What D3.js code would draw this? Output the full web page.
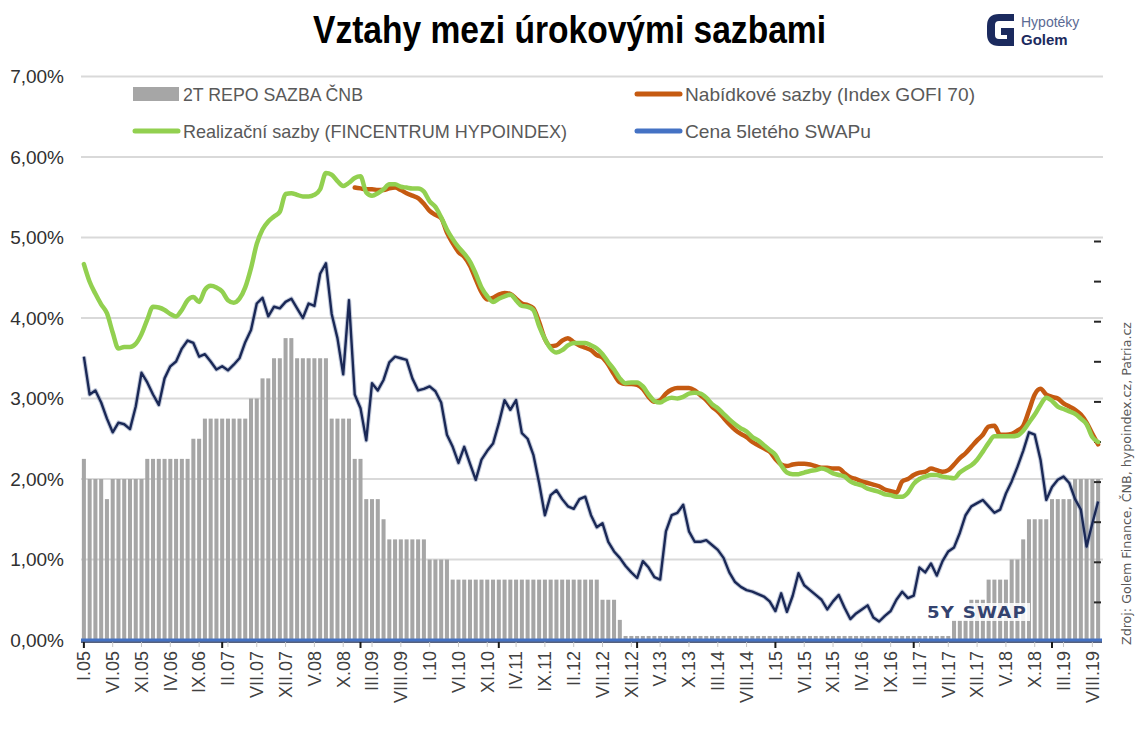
<!DOCTYPE html>
<html lang="cs">
<head>
<meta charset="utf-8">
<title>Vztahy mezi úrokovými sazbami</title>
<script src="https://cdn.jsdelivr.net/npm/d3@7"></script>
<style>
	html, body { margin: 0; padding: 0; background: #fff; }
	svg { display: block; font-family: "Liberation Sans", Arial, sans-serif; }
</style>
</head>
<body>
<svg id="chart"></svg>
<script>
/* global d3 */

// Monthly data, I.05 .. IX.19 (one row = one year)
const tickLabels = [
	'I.05', 'VI.05', 'XI.05', 'IV.06', 'IX.06', 'II.07', 'VII.07', 'XII.07', 'V.08', 'X.08',
	'III.09', 'VIII.09', 'I.10', 'VI.10', 'XI.10', 'IV.11', 'IX.11', 'II.12', 'VII.12', 'XII.12',
	'V.13', 'X.13', 'III.14', 'VIII.14', 'I.15', 'VI.15', 'XI.15', 'IV.16', 'IX.16', 'II.17',
	'VII.17', 'XII.17', 'V.18', 'X.18', 'III.19', 'VIII.19',
];

const yTicks = [ 0, 1, 2, 3, 4, 5, 6, 7 ];
const swapAxisTicks = [ 0.5, 1, 1.5, 2, 2.5, 3, 3.5, 4, 4.5, 5 ];

// 2T REPO SAZBA ČNB
const repoRate = [
	2.25, 2.00, 2.00, 2.00, 1.75, 2.00, 2.00, 2.00, 2.00, 2.00, 2.00, 2.25,
	2.25, 2.25, 2.25, 2.25, 2.25, 2.25, 2.25, 2.50, 2.50, 2.75, 2.75, 2.75,
	2.75, 2.75, 2.75, 2.75, 2.75, 3.00, 3.00, 3.25, 3.25, 3.50, 3.50, 3.75,
	3.75, 3.50, 3.50, 3.50, 3.50, 3.50, 3.50, 2.75, 2.75, 2.75, 2.75, 2.25,
	2.25, 1.75, 1.75, 1.75, 1.50, 1.25, 1.25, 1.25, 1.25, 1.25, 1.25, 1.25,
	1.00, 1.00, 1.00, 1.00, 0.75, 0.75, 0.75, 0.75, 0.75, 0.75, 0.75, 0.75,
	0.75, 0.75, 0.75, 0.75, 0.75, 0.75, 0.75, 0.75, 0.75, 0.75, 0.75, 0.75,
	0.75, 0.75, 0.75, 0.75, 0.75, 0.75, 0.50, 0.50, 0.50, 0.25, 0.05, 0.05,
	0.05, 0.05, 0.05, 0.05, 0.05, 0.05, 0.05, 0.05, 0.05, 0.05, 0.05, 0.05,
	0.05, 0.05, 0.05, 0.05, 0.05, 0.05, 0.05, 0.05, 0.05, 0.05, 0.05, 0.05,
	0.05, 0.05, 0.05, 0.05, 0.05, 0.05, 0.05, 0.05, 0.05, 0.05, 0.05, 0.05,
	0.05, 0.05, 0.05, 0.05, 0.05, 0.05, 0.05, 0.05, 0.05, 0.05, 0.05, 0.05,
	0.05, 0.05, 0.05, 0.05, 0.05, 0.05, 0.05, 0.25, 0.25, 0.25, 0.50, 0.50,
	0.50, 0.75, 0.75, 0.75, 0.75, 1.00, 1.00, 1.25, 1.50, 1.50, 1.50, 1.50,
	1.75, 1.75, 1.75, 1.75, 2.00, 2.00, 2.00, 2.00, 2.00,
];

// Realizační sazby (FINCENTRUM HYPOINDEX)
const realRate = [
	4.67, 4.45, 4.30, 4.17, 4.06, 3.82, 3.62, 3.64, 3.64, 3.68, 3.80, 3.98,
	4.14, 4.13, 4.10, 4.05, 4.02, 4.10, 4.22, 4.26, 4.20, 4.35, 4.40, 4.38,
	4.33, 4.22, 4.19, 4.24, 4.38, 4.62, 4.92, 5.10, 5.20, 5.26, 5.32, 5.54,
	5.55, 5.53, 5.51, 5.51, 5.53, 5.60, 5.80, 5.78, 5.70, 5.64, 5.68, 5.74,
	5.76, 5.56, 5.52, 5.55, 5.60, 5.66, 5.66, 5.63, 5.62, 5.61, 5.61, 5.57,
	5.45, 5.38, 5.25, 5.10, 4.98, 4.88, 4.80, 4.70, 4.55, 4.38, 4.27, 4.20,
	4.24, 4.27, 4.29, 4.22, 4.15, 4.14, 4.10, 3.90, 3.74, 3.62, 3.57, 3.60,
	3.66, 3.69, 3.69, 3.69, 3.66, 3.62, 3.55, 3.45, 3.36, 3.25, 3.19, 3.20,
	3.20, 3.15, 3.05, 2.97, 2.95, 2.99, 3.01, 3.00, 3.02, 3.06, 3.07, 3.06,
	3.01, 2.93, 2.88, 2.81, 2.74, 2.68, 2.63, 2.59, 2.52, 2.48, 2.42, 2.36,
	2.30, 2.17, 2.08, 2.06, 2.06, 2.08, 2.10, 2.11, 2.13, 2.11, 2.07, 2.05,
	2.03, 1.97, 1.94, 1.92, 1.88, 1.86, 1.84, 1.81, 1.80, 1.78, 1.78, 1.83,
	1.94, 2.00, 2.03, 2.05, 2.05, 2.03, 2.02, 2.01, 2.08, 2.13, 2.17, 2.24,
	2.34, 2.45, 2.53, 2.53, 2.53, 2.53, 2.54, 2.60, 2.70, 2.80, 2.92, 3.01,
	2.97, 2.90, 2.87, 2.84, 2.81, 2.75, 2.68, 2.52, 2.46,
];

// Nabídkové sazby (Index GOFI 70), from XII.08
const offerStart = '2008-12';
const offerRate = [
	5.62,
	5.61, 5.60, 5.60, 5.59, 5.59, 5.61, 5.62, 5.59, 5.55, 5.52, 5.49, 5.42,
	5.33, 5.28, 5.24, 5.06, 4.93, 4.82, 4.76, 4.65, 4.48, 4.32, 4.23, 4.25,
	4.29, 4.31, 4.30, 4.24, 4.18, 4.16, 4.12, 3.95, 3.74, 3.65, 3.66, 3.72,
	3.75, 3.70, 3.66, 3.63, 3.60, 3.54, 3.51, 3.42, 3.30, 3.20, 3.18, 3.18,
	3.17, 3.12, 3.02, 2.96, 2.98, 3.06, 3.11, 3.13, 3.13, 3.13, 3.10, 3.04,
	2.98, 2.90, 2.84, 2.76, 2.68, 2.61, 2.56, 2.52, 2.46, 2.42, 2.38, 2.34,
	2.25, 2.18, 2.16, 2.18, 2.19, 2.19, 2.18, 2.16, 2.14, 2.14, 2.13, 2.13,
	2.07, 2.02, 2.00, 1.97, 1.95, 1.93, 1.91, 1.87, 1.85, 1.83, 1.97, 2.00,
	2.05, 2.08, 2.09, 2.13, 2.11, 2.09, 2.11, 2.18, 2.26, 2.32, 2.40, 2.48,
	2.55, 2.65, 2.66, 2.55, 2.55, 2.56, 2.60, 2.66, 2.85, 3.05, 3.12, 3.05,
	3.02, 3.00, 2.94, 2.90, 2.86, 2.80, 2.70, 2.56, 2.43,
];

// 5Y SWAP
const swapRate = [
	3.52, 3.05, 3.10, 2.95, 2.75, 2.58, 2.70, 2.68, 2.62, 2.90, 3.32, 3.20,
	3.05, 2.92, 3.25, 3.40, 3.46, 3.62, 3.72, 3.69, 3.52, 3.55, 3.46, 3.36,
	3.40, 3.35, 3.42, 3.50, 3.70, 3.85, 4.18, 4.25, 4.02, 4.14, 4.12, 4.20,
	4.24, 4.12, 4.00, 4.18, 4.15, 4.55, 4.68, 4.05, 3.75, 3.30, 4.22, 3.05,
	2.88, 2.48, 3.19, 3.10, 3.23, 3.45, 3.52, 3.50, 3.48, 3.25, 3.10, 3.12,
	3.15, 3.09, 2.95, 2.55, 2.40, 2.20, 2.40, 2.19, 1.99, 2.24, 2.35, 2.44,
	2.69, 2.98, 2.86, 2.98, 2.57, 2.50, 2.30, 1.95, 1.55, 1.80, 1.86, 1.75,
	1.66, 1.63, 1.75, 1.78, 1.55, 1.40, 1.45, 1.22, 1.10, 1.02, 0.92, 0.84,
	0.77, 0.98, 0.90, 0.78, 0.75, 1.35, 1.55, 1.58, 1.68, 1.35, 1.22, 1.22,
	1.24, 1.18, 1.12, 1.02, 0.84, 0.72, 0.66, 0.62, 0.60, 0.57, 0.54, 0.48,
	0.36, 0.58, 0.35, 0.55, 0.83, 0.68, 0.62, 0.56, 0.50, 0.38, 0.48, 0.56,
	0.40, 0.26, 0.33, 0.38, 0.43, 0.28, 0.23, 0.30, 0.36, 0.50, 0.60, 0.52,
	0.55, 0.90, 0.84, 0.95, 0.80, 0.98, 1.10, 1.15, 1.33, 1.55, 1.66, 1.70,
	1.74, 1.66, 1.58, 1.62, 1.82, 1.97, 2.15, 2.35, 2.58, 2.55, 2.24, 1.74,
	1.90, 1.99, 2.03, 1.95, 1.75, 1.62, 1.16, 1.45, 1.72,
];

const legendItems = [
	{ key: 'repo', label: '2T REPO SAZBA ČNB', width: 180 },
	{ key: 'offer', label: 'Nabídkové sazby (Index GOFI 70)', width: 290 },
	{ key: 'real', label: 'Realizační sazby (FINCENTRUM HYPOINDEX)', width: 384 },
	{ key: 'swapLegend', label: 'Cena 5letého SWAPu', width: 186 },
];

/**
 * Interest rate comparison chart
 */
class RatesChart {
	/**
	 * @param {string} selector - SVG selector
	 */
	constructor( selector ) {
		this.selector = selector;
		this.config = {
			width: 1142,
			height: 732,
			plot: { left: 81, right: 1101, top: 76.5, bottom: 640 },
			colors: {
				repo: '#a6a6a6',
				offer: '#c55a11',
				real: '#92d050',
				swapLegend: '#4472c4',
				swap: '#1a2856',
				grid: '#d9d9d9',
				text: '#404040',
			},
		};

		this.initializeChart();
	}

	/**
	 * Initialize the chart
	 */
	initializeChart() {
		const { width, height } = this.config;

		this.svg = d3.select( this.selector )
			.attr( 'width', width )
			.attr( 'height', height );

		this.months = d3.timeMonth.range( new Date( 2005, 0, 1 ), new Date( 2019, 9, 1 ) );

		this.setupScales();
		this.renderGrid();
		this.renderBars();
		this.renderSwapLine();
		this.renderRateLines();
		this.renderAxes();
		this.renderLegend();
		this.renderTitle();
		this.renderNotes();
	}

	/**
	 * Setup scales
	 */
	setupScales() {
		const { plot } = this.config;

		this.x = d3.scaleBand()
			.domain( d3.range( this.months.length ) )
			.range( [ plot.left, plot.right ] )
			.paddingInner( 0.3 )
			.paddingOuter( 0.15 );

		this.y = d3.scaleLinear()
			.domain( [ 0, 7 ] )
			.range( [ plot.bottom, plot.top ] );

		// axis of the pasted swap picture (dashes on the right)
		this.ySwap = d3.scaleLinear()
			.domain( [ 0, 5 ] )
			.range( [ 642, 241 ] );

		this.cx = ( i ) => this.x( i ) + ( this.x.bandwidth() / 2 );
	}

	/**
	 * Horizontal grid lines
	 */
	renderGrid() {
		const { plot, colors } = this.config;

		this.svg.append( 'g' )
			.attr( 'class', 'grid' )
			.selectAll( 'line' )
			.data( yTicks.filter( ( d ) => d > 0 ) )
			.enter()
			.append( 'line' )
			.attr( 'x1', plot.left )
			.attr( 'x2', plot.right + 2 )
			.attr( 'y1', ( d ) => this.y( d ) )
			.attr( 'y2', ( d ) => this.y( d ) )
			.attr( 'stroke', colors.grid )
			.attr( 'stroke-width', 2 );
	}

	/**
	 * Repo rate bars
	 */
	renderBars() {
		this.svg.append( 'g' )
			.attr( 'class', 'bars' )
			.selectAll( 'rect' )
			.data( repoRate )
			.enter()
			.append( 'rect' )
			.attr( 'x', ( d, i ) => this.x( i ) )
			.attr( 'y', ( d ) => this.y( d ) )
			.attr( 'width', this.x.bandwidth() )
			.attr( 'height', ( d ) => this.y( 0 ) - this.y( d ) )
			.attr( 'fill', this.config.colors.repo );
	}

	/**
	 * 5Y swap line with its label and right-hand dashes
	 */
	renderSwapLine() {
		const { colors } = this.config;
		const line = d3.line()
			.x( ( d, i ) => this.cx( i ) )
			.y( ( d ) => this.y( d ) );

		const g = this.svg.append( 'g' ).attr( 'class', 'swap' );

		g.append( 'path' )
			.datum( swapRate )
			.attr( 'd', line )
			.attr( 'fill', 'none' )
			.attr( 'stroke', '#7d8bb0' )
			.attr( 'stroke-opacity', 0.45 )
			.attr( 'stroke-width', 4.5 )
			.attr( 'stroke-linejoin', 'round' );

		g.append( 'path' )
			.datum( swapRate )
			.attr( 'd', line )
			.attr( 'fill', 'none' )
			.attr( 'stroke', colors.swap )
			.attr( 'stroke-width', 2.4 )
			.attr( 'stroke-linejoin', 'round' );

		g.append( 'rect' )
			.attr( 'x', 924 )
			.attr( 'y', 603 )
			.attr( 'width', 106 )
			.attr( 'height', 18 )
			.attr( 'fill', '#fff' )
			.attr( 'fill-opacity', 0.85 );

		g.append( 'text' )
			.attr( 'x', 927 )
			.attr( 'y', 618 )
			.attr( 'textLength', 100 )
			.attr( 'lengthAdjust', 'spacingAndGlyphs' )
			.style( 'font-family', '"DejaVu Sans", sans-serif' )
			.style( 'font-weight', 'bold' )
			.style( 'font-size', '15px' )
			.style( 'letter-spacing', '1px' )
			.attr( 'fill', '#34436f' )
			.text( '5Y SWAP' );

		const dashAxis = this.svg.append( 'g' )
			.attr( 'transform', `translate(${ this.config.plot.right },0)` )
			.call( d3.axisLeft( this.ySwap ).tickValues( swapAxisTicks ).tickSize( 7 ).tickFormat( '' ) );
		dashAxis.select( '.domain' ).remove();
		dashAxis.selectAll( 'line' ).attr( 'stroke', '#262626' ).attr( 'stroke-width', 2 );
	}

	/**
	 * Offer and realized rate lines
	 */
	renderRateLines() {
		const { colors } = this.config;
		const offset = d3.timeMonth.count( this.months[ 0 ], d3.timeParse( '%Y-%m' )( offerStart ) );

		const line = ( start ) => d3.line()
			.curve( d3.curveMonotoneX )
			.x( ( d, i ) => this.cx( i + start ) )
			.y( ( d ) => this.y( d ) );

		this.svg.append( 'path' )
			.datum( offerRate )
			.attr( 'd', line( offset ) )
			.attr( 'fill', 'none' )
			.attr( 'stroke', colors.offer )
			.attr( 'stroke-width', 4.5 )
			.attr( 'stroke-linejoin', 'round' )
			.attr( 'stroke-linecap', 'round' );

		this.svg.append( 'path' )
			.datum( realRate )
			.attr( 'd', line( 0 ) )
			.attr( 'fill', 'none' )
			.attr( 'stroke', colors.real )
			.attr( 'stroke-width', 4.5 )
			.attr( 'stroke-linejoin', 'round' )
			.attr( 'stroke-linecap', 'round' );
	}

	/**
	 * Axes
	 */
	renderAxes() {
		const { plot, colors } = this.config;
		const labelIdx = d3.range( 0, this.months.length, 5 );
		const majorIdx = d3.range( this.months.length ).filter( ( i ) => this.months[ i ].getMonth() === 0 && this.months[ i ].getFullYear() % 2 === 1 );

		// baseline
		this.svg.append( 'line' )
			.attr( 'x1', plot.left ).attr( 'x2', plot.right + 1 )
			.attr( 'y1', plot.bottom + 2 ).attr( 'y2', plot.bottom + 2 )
			.attr( 'stroke', '#1f2d50' )
			.attr( 'stroke-width', 1.5 );
		this.svg.append( 'line' )
			.attr( 'x1', plot.left ).attr( 'x2', plot.right + 1 )
			.attr( 'y1', plot.bottom ).attr( 'y2', plot.bottom )
			.attr( 'stroke', colors.swapLegend )
			.attr( 'stroke-width', 3 );

		const xAxis = this.svg.append( 'g' )
			.attr( 'transform', `translate(0,${ plot.bottom + 2 })` )
			.call( d3.axisBottom( this.x )
				.tickValues( labelIdx )
				.tickSize( 5 )
				.tickFormat( ( i ) => tickLabels[ i / 5 ] ) );
		xAxis.select( '.domain' ).remove();
		xAxis.selectAll( '.tick line' ).attr( 'stroke', '#c8c8c8' );
		xAxis.selectAll( 'text' )
			.attr( 'transform', 'rotate(-90)' )
			.attr( 'x', -9 )
			.attr( 'y', 0 )
			.attr( 'dy', '0.35em' )
			.style( 'text-anchor', 'end' )
			.style( 'font-size', '18px' )
			.style( 'font-family', '"Liberation Sans", Arial, sans-serif' )
			.attr( 'fill', colors.text );

		const majorAxis = this.svg.append( 'g' )
			.attr( 'transform', `translate(0,${ plot.bottom + 2 })` )
			.call( d3.axisBottom( this.x ).tickValues( majorIdx ).tickSize( 6 ).tickFormat( '' ) );
		majorAxis.select( '.domain' ).remove();
		majorAxis.selectAll( 'line' ).attr( 'stroke', '#1a1a1a' ).attr( 'stroke-width', 2 );

		const yAxis = this.svg.append( 'g' )
			.attr( 'transform', 'translate(70,0)' )
			.call( d3.axisLeft( this.y )
				.tickValues( yTicks )
				.tickSize( 0 )
				.tickPadding( 6 )
				.tickFormat( ( d ) => d.toFixed( 2 ).replace( '.', ',' ) + '%' ) );
		yAxis.select( '.domain' ).remove();
		yAxis.selectAll( 'text' )
			.style( 'font-size', '19px' )
			.style( 'font-family', '"Liberation Sans", Arial, sans-serif' )
			.attr( 'fill', '#303030' );
	}

	/**
	 * Legend inside the plot area
	 */
	renderLegend() {
		const { colors } = this.config;
		const pos = {
			repo: [ 133, 94 ],
			offer: [ 635, 94 ],
			real: [ 133, 131 ],
			swapLegend: [ 635, 131 ],
		};

		const items = this.svg.append( 'g' )
			.attr( 'class', 'legend' )
			.selectAll( 'g' )
			.data( legendItems )
			.enter()
			.append( 'g' )
			.attr( 'transform', ( d ) => `translate(${ pos[ d.key ][ 0 ] },${ pos[ d.key ][ 1 ] })` );

		items.filter( ( d ) => d.key === 'repo' )
			.append( 'rect' )
			.attr( 'x', 0 )
			.attr( 'y', -7 )
			.attr( 'width', 46 )
			.attr( 'height', 14 )
			.attr( 'fill', colors.repo );

		items.filter( ( d ) => d.key !== 'repo' )
			.append( 'line' )
			.attr( 'x1', 2 )
			.attr( 'x2', 45 )
			.attr( 'stroke', ( d ) => colors[ d.key ] )
			.attr( 'stroke-width', 5 )
			.attr( 'stroke-linecap', 'round' );

		items.append( 'text' )
			.attr( 'x', 50 )
			.attr( 'y', 7 )
			.attr( 'textLength', ( d ) => d.width )
			.attr( 'lengthAdjust', 'spacingAndGlyphs' )
			.style( 'font-size', '19px' )
			.attr( 'fill', '#595959' )
			.text( ( d ) => d.label );
	}

	/**
	 * Title and logo
	 */
	renderTitle() {
		this.svg.append( 'text' )
			.attr( 'x', 313 )
			.attr( 'y', 43 )
			.attr( 'textLength', 513 )
			.attr( 'lengthAdjust', 'spacingAndGlyphs' )
			.style( 'font-size', '38px' )
			.style( 'font-weight', 'bold' )
			.attr( 'fill', '#000' )
			.text( 'Vztahy mezi úrokovými sazbami' );

		const logo = this.svg.append( 'g' ).attr( 'class', 'logo' );
		logo.append( 'path' )
			.attr( 'd', 'M1014 14 H999 Q987 14 987 26 V34 Q987 46 999 46 H1014 V28 H1001 V35 H1007 V39 H999 Q995 39 995 35 V25 Q995 21 999 21 H1014 Z' )
			.attr( 'fill', '#1b2a5e' );
		logo.append( 'text' )
			.attr( 'x', 1021 )
			.attr( 'y', 27 )
			.style( 'font-size', '14px' )
			.attr( 'fill', '#5a6a94' )
			.text( 'Hypotéky' );
		logo.append( 'text' )
			.attr( 'x', 1021 )
			.attr( 'y', 45 )
			.style( 'font-size', '15px' )
			.style( 'font-weight', 'bold' )
			.attr( 'fill', '#1b2a5e' )
			.text( 'Golem' );
	}

	/**
	 * Source note on the right edge
	 */
	renderNotes() {
		this.svg.append( 'text' )
			.attr( 'transform', 'translate(1131,645) rotate(-90)' )
			.attr( 'textLength', 323 )
			.attr( 'lengthAdjust', 'spacingAndGlyphs' )
			.style( 'font-family', '"DejaVu Sans", sans-serif' )
			.style( 'font-size', '12px' )
			.attr( 'fill', '#595959' )
			.text( 'Zdroj: Golem Finance, ČNB, hypoindex.cz,  Patria.cz' );
	}
}

new RatesChart( '#chart' );
</script>
</body>
</html>
